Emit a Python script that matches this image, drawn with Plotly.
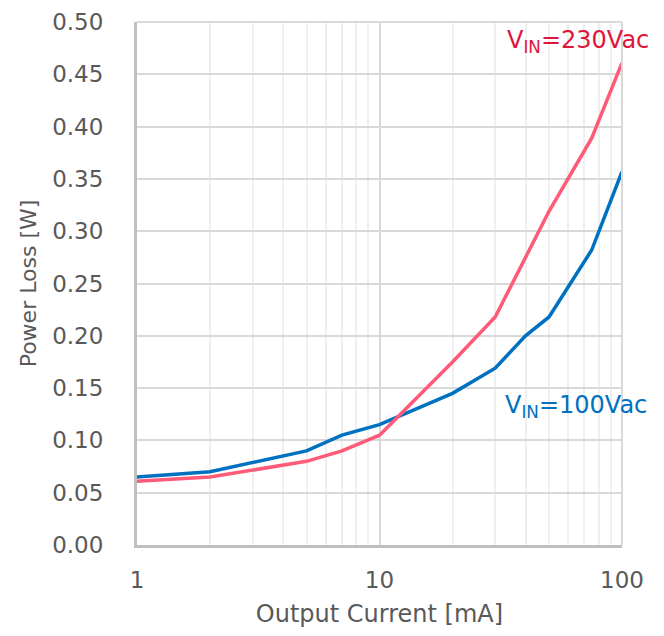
import plotly.graph_objects as go
import math

current_ma = [1, 2, 5, 7, 10, 20, 30, 40, 50, 75, 100]
loss_100vac = [0.065, 0.070, 0.090, 0.105, 0.115, 0.145, 0.169, 0.200, 0.218, 0.282, 0.357]
loss_230vac = [0.061, 0.065, 0.080, 0.090, 0.105, 0.175, 0.218, 0.274, 0.319, 0.389, 0.461]
y_ticks = [0.00, 0.05, 0.10, 0.15, 0.20, 0.25, 0.30, 0.35, 0.40, 0.45, 0.50]
x_ticks = [1, 10, 100]

BLUE = "#0070C0"
RED_LINE = "#FF5A78"
RED_TEXT = "#E0143C"
GRAY = "#595959"
FONT = "DejaVu Sans"

fig = go.Figure()
fig.add_trace(go.Scatter(x=current_ma, y=loss_100vac, mode="lines",
                         line=dict(color=BLUE, width=3.5), name="100Vac"))
fig.add_trace(go.Scatter(x=current_ma, y=loss_230vac, mode="lines",
                         line=dict(color=RED_LINE, width=3.5), name="230Vac"))

fig.add_annotation(x=math.log10(100), y=0.481, xref="x", yref="y",
                   text="V<sub>IN</sub>=230Vac", showarrow=False,
                   xanchor="right", xshift=29,
                   font=dict(family=FONT, size=24, color=RED_TEXT))
fig.add_annotation(x=math.log10(100), y=0.132, xref="x", yref="y",
                   text="V<sub>IN</sub>=100Vac", showarrow=False,
                   xanchor="right", xshift=27,
                   font=dict(family=FONT, size=24, color=BLUE))

fig.update_layout(
    width=648, height=620,
    margin=dict(l=129, r=34, t=14, b=83),
    paper_bgcolor="white", plot_bgcolor="white",
    showlegend=False,
    font=dict(family=FONT, color=GRAY, size=23),
)
fig.update_xaxes(
    type="log", range=[0, 2], automargin=False,
    tickvals=x_ticks, ticktext=[str(v) for v in x_ticks],
    showgrid=True, gridcolor="#D9D9D9", gridwidth=1.5,
    minor=dict(dtick="D1", showgrid=True, gridcolor="#EFEFEF", gridwidth=1.5, ticks=""),
    showline=True, linecolor="#BFBFBF", linewidth=3, mirror=False,
    ticks="", ticklabelstandoff=12,
    tickfont=dict(family=FONT, size=23, color=GRAY),
    title=dict(text="Output Current [mA]", font=dict(family=FONT, size=24, color=GRAY), standoff=20),
    zeroline=False,
)
fig.update_yaxes(
    range=[0, 0.5], automargin=False,
    tickvals=y_ticks, ticktext=[f"{v:.2f}" for v in y_ticks],
    showgrid=True, gridcolor="#D9D9D9", gridwidth=1.5,
    showline=True, linecolor="#BFBFBF", linewidth=3,
    ticks="", ticklabelstandoff=26,
    tickfont=dict(family=FONT, size=23, color=GRAY),
    title=dict(text="Power Loss [W]", font=dict(family=FONT, size=22, color=GRAY), standoff=10),
    zeroline=False,
)
# top and right light borders
fig.add_shape(type="line", xref="paper", yref="paper", x0=0, x1=1, y0=1, y1=1,
              line=dict(color="#D9D9D9", width=2))
fig.add_shape(type="line", xref="paper", yref="paper", x0=1, x1=1, y0=0, y1=1,
              line=dict(color="#D9D9D9", width=2))

fig.write_html("out.html")
